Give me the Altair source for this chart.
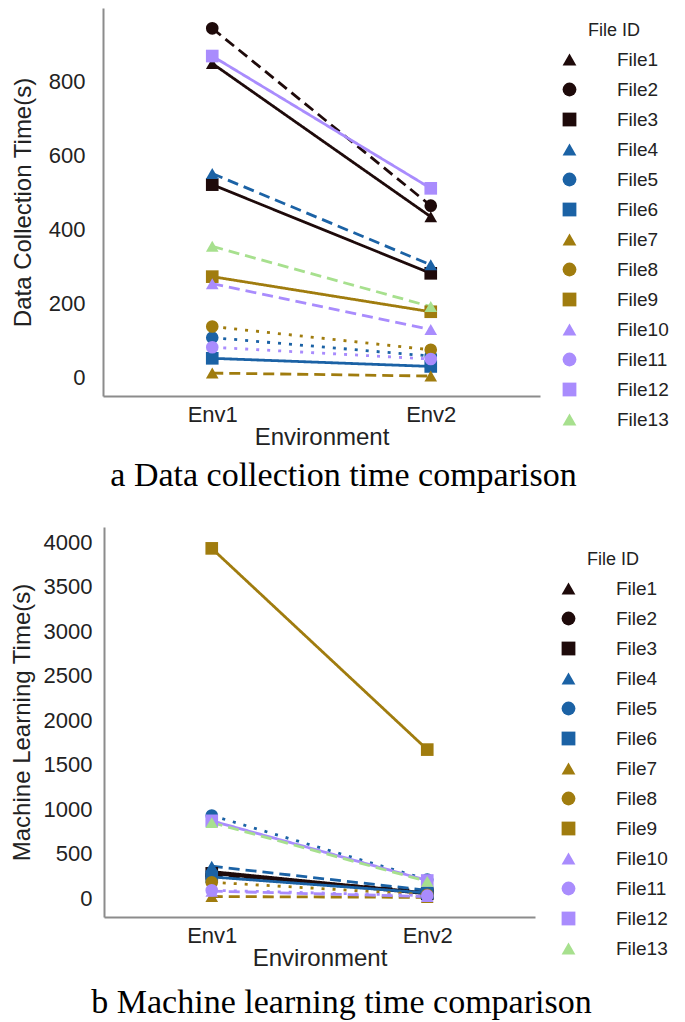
import altair as alt
import pandas as pd

files = [f"File{i}" for i in range(1, 14)]
envs = ["Env1", "Env2"]

# Data collection time (s)
dc_env1 = [850, 945, 522, 552, 108, 52, 12, 138, 273, 254, 82, 870, 355]
dc_env2 = [435, 465, 282, 305, 58, 30, 4, 75, 178, 130, 50, 512, 192]

# Machine learning time (s)
ml_env1 = [300, 260, 280, 360, 930, 240, 20, 180, 3930, 80, 90, 870, 850]
ml_env2 = [60, 80, 50, 90, 210, 60, 10, 40, 1670, 20, 30, 200, 190]

dc_ticks = [0, 200, 400, 600, 800]
ml_ticks = [0, 500, 1000, 1500, 2000, 2500, 3000, 3500, 4000]

shapes = ["triangle-up", "circle", "square"] * 4 + ["triangle-up"]
colors = ["#1e0a0a"] * 3 + ["#1b62a5"] * 3 + ["#a07c0e"] * 3 + ["#a98cfd"] * 3 + ["#a7e08e"]
SOLID, DASH, DOT = [1, 0], [11, 6], [3, 8]
dashes = [SOLID, DASH, SOLID, DASH, DOT, SOLID, DASH, DOT, SOLID, DASH, DOT, SOLID, DASH]

FONT = "Liberation Sans"


def panel(v1, v2, ytitle, domain, ticks, caption, width, height,
          legend_x, legend_y, ylab_pad, ytitle_pad, cap_dx, cap_off):
    df = pd.DataFrame({
        "File": files * 2,
        "Environment": ["Env1"] * len(files) + ["Env2"] * len(files),
        "Time": v1 + v2,
    })
    x = alt.X("Environment:N", sort=envs,
              scale=alt.Scale(type="point", padding=0.5),
              axis=alt.Axis(labelAngle=0, title="Environment", labelPadding=8, titlePadding=0))
    y = alt.Y("Time:Q", scale=alt.Scale(domain=domain, nice=False, zero=False),
              axis=alt.Axis(values=ticks, format="d", title=ytitle,
                            labelPadding=ylab_pad, titlePadding=ytitle_pad))
    leg = alt.Legend(title="File ID", orient="none", legendX=legend_x, legendY=legend_y,
                     titleAnchor="middle", titlePadding=10, rowPadding=10, labelOffset=38,
                     symbolSize=190, symbolStrokeWidth=0)
    cscale = alt.Scale(domain=files, range=colors)
    lines = alt.Chart(df).mark_line(strokeWidth=2.8).encode(
        x=x, y=y,
        color=alt.Color("File:N", scale=cscale, legend=leg),
        strokeDash=alt.StrokeDash("File:N", scale=alt.Scale(domain=files, range=dashes), legend=None),
        detail="File:N",
    )
    points = alt.Chart(df).mark_point(filled=True, size=160, opacity=1).encode(
        x=x, y=y,
        color=alt.Color("File:N", scale=cscale, legend=leg),
        shape=alt.Shape("File:N", scale=alt.Scale(domain=files, range=shapes), legend=leg),
    )
    return alt.layer(lines, points).properties(
        width=width, height=height,
        title=alt.TitleParams(caption, orient="bottom", font="Liberation Serif", fontSize=34,
                              fontWeight="normal", anchor="middle", offset=cap_off, dx=cap_dx,
                              color="#000"),
    )


top = panel(dc_env1, dc_env2, "Data Collection Time(s)", [-50, 1000], dc_ticks,
            "a Data collection time comparison", 437, 388, 457, 14, 18, 13, 22, 10)
bottom = panel(ml_env1, ml_env2, "Machine Learning Time(s)", [-210, 4170], ml_ticks,
               "b Machine learning time comparison", 431, 390, 455, 24, 12, 9, 22, 16)

chart = alt.vconcat(top, bottom, spacing=34, center=True).resolve_scale(
    color="independent", shape="independent", strokeDash="independent", x="independent", y="independent"
).resolve_legend(color="independent", shape="independent").properties(
    padding={"left": 2, "top": 0, "right": 0, "bottom": 0}
).configure_view(stroke=None).configure_axis(
    grid=False, ticks=False, domainColor="#8c8c8c", domainWidth=2,
    labelFont=FONT, labelFontSize=22, labelColor="#222",
    titleFont=FONT, titleFontSize=24, titleFontWeight="normal", titleColor="#222",
).configure_legend(
    titleFont=FONT, titleFontSize=18, titleFontWeight="normal", titleColor="#222",
    labelFont=FONT, labelFontSize=19, labelColor="#222",
)

chart.save("out.html", embed_options={"renderer": "svg", "actions": False})
